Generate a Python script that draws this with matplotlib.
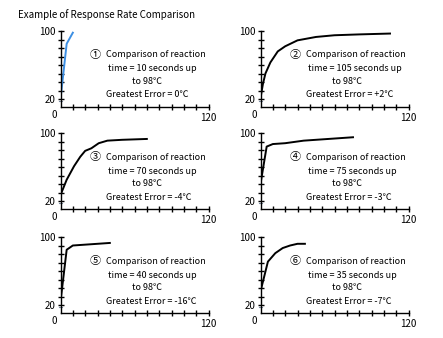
import matplotlib
matplotlib.use('Agg')
import matplotlib.pyplot as plt

plt.rcParams['font.family'] = ['Noto Sans CJK JP', 'DejaVu Sans']

# time (s) / temperature readings for each sensor panel
t1 = [0, 5, 10]
v1 = [20, 85, 98]
t2 = [0, 2, 4, 8, 14, 20, 30, 45, 60, 80, 105]
v2 = [21, 38, 50, 63, 76, 82, 89, 93, 95, 96, 97]
t3 = [0, 5, 11, 16, 20, 25, 31, 38, 50, 70]
v3 = [27, 45, 61, 72, 79, 82, 88, 91, 92, 93]
t4 = [0, 5, 10, 20, 35, 55, 75]
v4 = [40, 84, 87, 88, 91, 93, 95]
t5 = [0, 5, 10, 40]
v5 = [24, 85, 90, 93]
t6 = [0, 6, 12, 18, 24, 30, 36]
v6 = [36, 71, 81, 87, 90, 92, 92]

marks = ['①', '②', '③', '④', '⑤', '⑥']
secs = [10, 105, 70, 75, 40, 35]
errors = ['0', '+2', '-4', '-3', '-16', '-7']
series = [(t1, v1), (t2, v2), (t3, v3), (t4, v4), (t5, v5), (t6, v6)]
colors = ['#3d8fe3', 'black', 'black', 'black', 'black', 'black']

W, H = 443, 338
fig = plt.figure(figsize=(W / 100, H / 100), dpi=100)
fig.text(18 / W, 1 - 15 / H, 'Example of Response Rate Comparison',
         fontsize=7, va='center', ha='left')

lefts = [60.5, 260.5]
axis_y = [107, 209, 313]
fs = 6.5

for i in range(6):
    col = i % 2
    row = i // 2
    left = lefts[col]
    bottom = axis_y[row]
    ax = fig.add_axes([left / W, 1 - bottom / H, 148 / W, 76 / H])
    t, v = series[i]
    ax.plot(t, v, color=colors[i], lw=1.4)
    ax.set_xlim(0, 120)
    ax.set_ylim(10.6, 100)
    for s in ['top', 'right']:
        ax.spines[s].set_visible(False)
    ax.spines['left'].set_linewidth(1)
    ax.spines['bottom'].set_linewidth(1)
    ax.set_xticks(range(10, 121, 10))
    ax.set_xticklabels([])
    ax.set_yticks(range(20, 101, 10))
    ax.set_yticklabels(['20', '', '', '', '', '', '', '', '100'])
    ax.tick_params(axis='both', direction='inout', length=5, width=1,
                   labelsize=7, pad=1)
    ax.patch.set_visible(False)
    # small break mark under the 20 tick
    ax.plot([-1.2, 1.2], [17.5, 17.5], color='#7a8aa0', lw=0.8,
            clip_on=False)

    ax.annotate('0', (0, 0), xycoords='axes fraction',
                xytext=(-6, -8), textcoords='offset pixels',
                ha='center', va='center', fontsize=7)
    ax.annotate('120', (1, 0), xycoords='axes fraction',
                xytext=(0, -11), textcoords='offset pixels',
                ha='center', va='center', fontsize=7)

    # annotation text block
    def put(txt, dx, dy, size=fs):
        ax.annotate(txt, (0, 1), xycoords='axes fraction',
                    xytext=(dx, -dy), textcoords='offset pixels',
                    ha='left', va='center', fontsize=size)

    put(marks[i], 29, 24, 8)
    put('Comparison of reaction', 45, 24)
    put('time = %d seconds up' % secs[i], 47, 38)
    put('to 98℃', 71, 51)
    put('Greatest Error = %s℃' % errors[i], 46, 64)

fig.savefig('out.png', dpi=100)
